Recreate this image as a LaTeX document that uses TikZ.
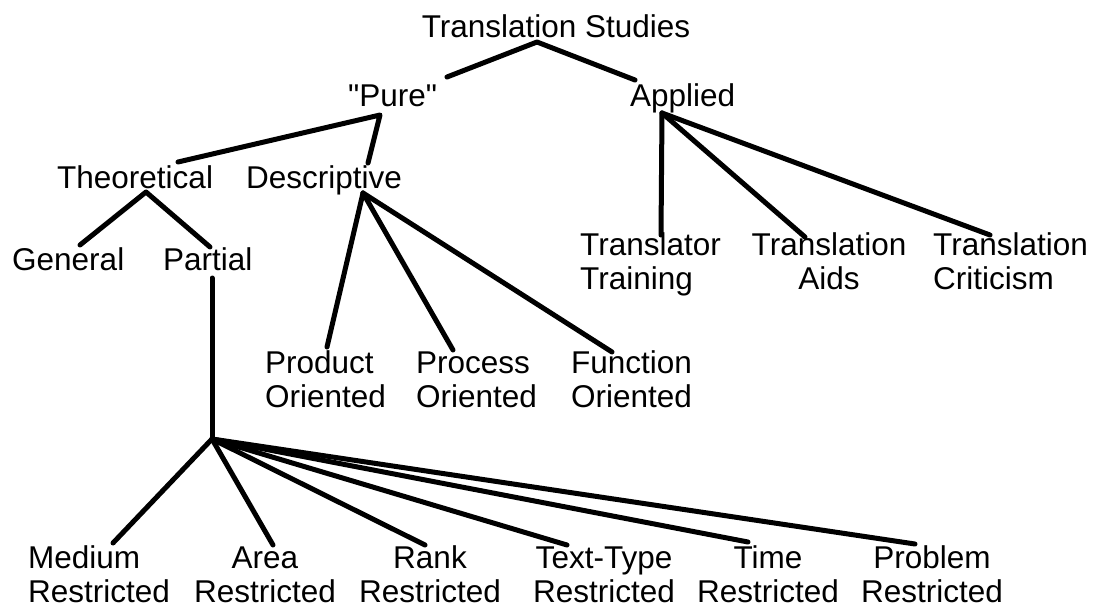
\documentclass[tikz,border=0pt]{standalone}
\usepackage{fontspec}
\setmainfont{Liberation Sans}
\usetikzlibrary{positioning}
\newcommand{\straightquote}{\XeTeXglyph\XeTeXcharglyph"22\relax}

\begin{document}
\begin{tikzpicture}[
    x=1pt, y=-1pt,
    lbl/.style={inner sep=0pt, font=\fontsize{31.5}{34}\selectfont},
    branch/.style={line width=5pt, line cap=round, line join=round}
]
    \useasboundingbox (0,0) rectangle (1098,608);

    % Wurzel und erste Ebene
    \node[lbl, anchor=base] (ts) at (556,37) {Translation Studies};
    \node[lbl, anchor=base west] (pure) at (348,106) {\straightquote Pure\straightquote};
    \node[lbl, anchor=base west] (applied) at (630,106) {Applied};

    % reine Richtung
    \node[lbl, anchor=base west] (theo) at (57,188) {Theoretical};
    \node[lbl, anchor=base west] (desc) at (246,188) {Descriptive};
    \node[lbl, anchor=base west] (general) at (12,270) {General};
    \node[lbl, anchor=base west] (partial) at (163,270) {Partial};

    % deskriptiv (base = zweite Zeile)
    \node[lbl, align=left, anchor=base west] (product) at (265,407) {Product\\Oriented};
    \node[lbl, align=left, anchor=base west] (process) at (416,407) {Process\\Oriented};
    \node[lbl, align=left, anchor=base west] (function) at (571,407) {Function\\Oriented};

    % angewandt
    \node[lbl, align=left, anchor=base west] (training) at (580,289) {Translator\\Training};
    \node[lbl, align=center, anchor=base] (aids) at (829,289) {Translation\\Aids};
    \node[lbl, align=left, anchor=base west] (criticism) at (933,289) {Translation\\Criticism};

    % partiell
    \node[lbl, align=left, anchor=base west] (medium) at (28,602) {Medium\\Restricted};
    \node[lbl, align=center, anchor=base] (area) at (265,602) {Area\\Restricted};
    \node[lbl, align=center, anchor=base] (rank) at (430,602) {Rank\\Restricted};
    \node[lbl, align=center, anchor=base] (texttype) at (604,602) {Text-Type\\Restricted};
    \node[lbl, align=center, anchor=base] (time) at (768,602) {Time\\Restricted};
    \node[lbl, align=center, anchor=base] (problem) at (932,602) {Problem\\Restricted};

    % Knoten der Verzweigungen
    \coordinate (ts-j) at (537,42);
    \coordinate (pure-in) at (447,77);
    \coordinate (applied-in) at (635,80);
    \coordinate (pure-j) at (380,115);
    \coordinate (theo-in) at (178,162);
    \coordinate (desc-in) at (368,163);
    \coordinate (theo-j) at (146,192);
    \coordinate (general-in) at (80,245);
    \coordinate (partial-in) at (210,247);
    \coordinate (partial-out) at (212,278);
    \coordinate (partial-j) at (212,439);
    \coordinate (desc-j) at (363,193);
    \coordinate (applied-j) at (662,113);

    \coordinate (product-in) at (327,347);
    \coordinate (process-in) at (453,350);
    \coordinate (function-in) at (612,352);
    \coordinate (training-in) at (661,235);
    \coordinate (aids-in) at (805,237);
    \coordinate (criticism-in) at (990,235);
    \coordinate (medium-in) at (113,543);
    \coordinate (area-in) at (273,545);
    \coordinate (rank-in) at (425,545);
    \coordinate (texttype-in) at (567,545);
    \coordinate (time-in) at (748,542);
    \coordinate (problem-in) at (915,544);

    % Linien
    \draw[branch] (pure-in) -- (ts-j) -- (applied-in);
    \draw[branch] (theo-in) -- (pure-j) -- (desc-in);
    \draw[branch] (general-in) -- (theo-j) -- (partial-in);
    \draw[branch] (partial-out) -- (partial-j);
    \foreach \k in {product, process, function}
        \draw[branch] (desc-j) -- (\k-in);
    \foreach \k in {training, aids, criticism}
        \draw[branch] (applied-j) -- (\k-in);
    \foreach \k in {medium, area, rank, texttype, time, problem}
        \draw[branch] (partial-j) -- (\k-in);
\end{tikzpicture}
\end{document}
